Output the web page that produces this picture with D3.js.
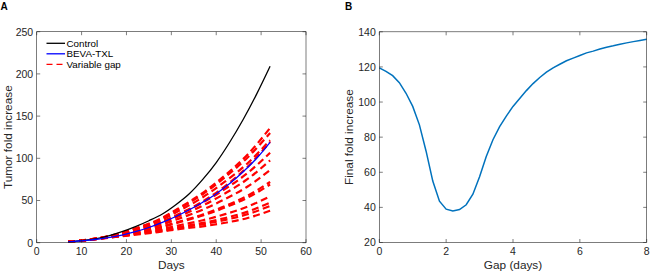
<!DOCTYPE html>
<html>
<head>
<meta charset="utf-8">
<script src="https://cdn.jsdelivr.net/npm/d3@7"></script>
<style>
  body { margin: 0; background: #fff; }
  svg { display: block; font-family: "Liberation Sans", Arial, sans-serif; }
</style>
</head>
<body>
<div id="chart"></div>
<script>
// Panel A: tumor growth curves
var curveDays = [7, 10, 13, 16, 19, 22, 25, 28, 31, 34, 37, 40, 43, 46, 49, 52];
var controlValues = [1, 2.5, 4.5, 8, 13, 19, 26, 34, 45, 58, 75, 95, 119, 146, 176, 209];
var bevaTxlValues = [1, 2.3, 3.8, 6, 9, 13, 18, 24, 31, 39, 48, 58, 70, 84, 100, 119];

var gapDays = [7, 12, 17, 22, 27, 32, 37, 42, 47, 52];
var variableGapCurves = [
  [1, 3.6, 7.5, 14, 23, 34.5, 49, 67, 90, 119.5],
  [1, 3.8, 8, 14.2, 21.5, 32, 44, 58.5, 75.5, 97.5],
  [1, 3.7, 7.4, 12.2, 17.7, 25.4, 33.4, 43.5, 55.7, 72],
  [1, 3.6, 7, 10.9, 15.3, 21, 26.6, 33.8, 42.8, 55],
  [1, 3.5, 6.7, 10, 13.5, 17.8, 21.8, 27, 33.8, 43.5],
  [1, 3.5, 6.5, 9.5, 12.6, 16.3, 19.4, 23.6, 29.3, 38],
  [1, 3.6, 6.8, 10.3, 14.1, 18.9, 23.4, 29.3, 36.8, 47.5],
  [1, 3.7, 7.3, 12, 17.3, 24.6, 32.2, 41.8, 53.4, 69],
  [1, 3.8, 7.8, 13.3, 19.8, 29.1, 39.2, 51.8, 66.6, 86],
  [1, 3.9, 8.3, 14.9, 22.9, 34.6, 47.6, 63.8, 82.6, 106.5],
  [1, 3.9, 8.7, 16, 25.1, 38.6, 53.8, 72.6, 94.2, 121.5],
  [1, 4, 8.9, 16.7, 26.4, 41, 57.4, 77.7, 101, 130],
  [1, 4, 9, 17, 27, 42, 59, 80, 104.5, 136]
];
var legendLabels = ["Control", "BEVA-TXL", "Variable gap"];

// Panel B: final fold increase vs gap
var gapValues = [0, 0.2, 0.4, 0.6, 0.8, 1, 1.2, 1.4, 1.6, 1.8, 2, 2.2, 2.4, 2.6, 2.8, 3, 3.2, 3.4, 3.6, 3.8,
  4, 4.2, 4.4, 4.6, 4.8, 5, 5.2, 5.4, 5.6, 5.8, 6, 6.2, 6.4, 6.6, 6.8, 7, 7.2, 7.4, 7.6, 7.8, 8];
var finalFoldValues = [119.5, 117.5, 115, 111, 105, 97.5, 87, 72, 55, 43.5, 39, 38, 38.8, 41.5, 47.5, 57.5, 69, 78.5, 86, 92,
  97.5, 102, 106.5, 110.5, 114, 117, 119.5, 121.5, 123.5, 125, 126.5, 128, 129, 130.2, 131.2, 132, 132.9, 133.7, 134.4, 135.1, 135.8];

var xTicksA = [0, 10, 20, 30, 40, 50, 60];
var yTicksA = [0, 50, 100, 150, 200, 250];
var xTicksB = [0, 2, 4, 6, 8];
var yTicksB = [20, 40, 60, 80, 100, 120, 140];

var axisColor = "#262626";

var svg = d3.select("#chart").append("svg")
  .attr("width", 650)
  .attr("height", 271);

// draws a matlab style box with inward ticks on all sides
function drawBox(g, x, y, xTicks, yTicks) {
  var x0 = x.range()[0], x1 = x.range()[1], y0 = y.range()[0], y1 = y.range()[1];
  g.append("rect")
    .attr("x", x0).attr("y", y1)
    .attr("width", x1 - x0).attr("height", y0 - y1)
    .attr("fill", "none").attr("stroke", axisColor).attr("stroke-width", 0.6);

  xTicks.forEach(function (t) {
    g.append("line").attr("x1", x(t)).attr("x2", x(t)).attr("y1", y0).attr("y2", y0 - 3.5)
      .attr("stroke", axisColor).attr("stroke-width", 0.6);
    g.append("line").attr("x1", x(t)).attr("x2", x(t)).attr("y1", y1).attr("y2", y1 + 3.5)
      .attr("stroke", axisColor).attr("stroke-width", 0.6);
    g.append("text").attr("x", x(t)).attr("y", y0 + 12.5)
      .attr("text-anchor", "middle").attr("font-size", "10.5px").attr("fill", axisColor)
      .text(t);
  });
  yTicks.forEach(function (t) {
    g.append("line").attr("x1", x0).attr("x2", x0 + 3.5).attr("y1", y(t)).attr("y2", y(t))
      .attr("stroke", axisColor).attr("stroke-width", 0.6);
    g.append("line").attr("x1", x1).attr("x2", x1 - 3.5).attr("y1", y(t)).attr("y2", y(t))
      .attr("stroke", axisColor).attr("stroke-width", 0.6);
    g.append("text").attr("x", x0 - 3.5).attr("y", y(t) + 3.8)
      .attr("text-anchor", "end").attr("font-size", "10.5px").attr("fill", axisColor)
      .text(t);
  });
}

// ---------- Panel A ----------
var gA = svg.append("g");
var xA = d3.scaleLinear().domain([0, 60]).range([36.7, 306]);
var yA = d3.scaleLinear().domain([0, 250]).range([242.7, 31.7]);

var lineA = d3.line()
  .x(function (d) { return xA(d[0]); })
  .y(function (d) { return yA(d[1]); })
  .curve(d3.curveMonotoneX);

// red variable gap curves first, blue drawn over them
variableGapCurves.forEach(function (vals) {
  gA.append("path")
    .datum(gapDays.map(function (d, i) { return [d, vals[i]]; }))
    .attr("d", lineA)
    .attr("fill", "none")
    .attr("stroke", "#ff0000")
    .attr("stroke-width", 2.2)
    .attr("stroke-dasharray", "7,4");
});

gA.append("path")
  .datum(curveDays.map(function (d, i) { return [d, controlValues[i]]; }))
  .attr("d", lineA)
  .attr("fill", "none").attr("stroke", "#000").attr("stroke-width", 1.3);

gA.append("path")
  .datum(curveDays.map(function (d, i) { return [d, bevaTxlValues[i]]; }))
  .attr("d", lineA)
  .attr("fill", "none").attr("stroke", "#0000ff").attr("stroke-width", 1.3);

drawBox(gA, xA, yA, xTicksA, yTicksA);

// legend (no box)
var legendStyles = [
  { stroke: "#000", dash: null },
  { stroke: "#0000ff", dash: null },
  { stroke: "#ff0000", dash: "6,4" }
];
legendLabels.forEach(function (lab, i) {
  var ly = 43.3 + i * 10.5;
  gA.append("line")
    .attr("x1", 46.5).attr("x2", 65).attr("y1", ly).attr("y2", ly)
    .attr("stroke", legendStyles[i].stroke)
    .attr("stroke-width", 1.3)
    .attr("stroke-dasharray", legendStyles[i].dash);
  gA.append("text")
    .attr("x", 66.5).attr("y", ly + 3.4)
    .attr("font-size", "9.8px").attr("fill", "#000")
    .text(lab);
});

gA.append("text")
  .attr("x", (xA.range()[0] + xA.range()[1]) / 2).attr("y", 269)
  .attr("text-anchor", "middle").attr("font-size", "11.8px").attr("fill", axisColor)
  .text("Days");

gA.append("text")
  .attr("transform", "translate(11.5," + ((yA.range()[0] + yA.range()[1]) / 2) + ") rotate(-90)")
  .attr("text-anchor", "middle").attr("font-size", "11.8px").attr("fill", axisColor)
  .text("Tumor fold increase");

gA.append("text")
  .attr("x", 0.5).attr("y", 9.5)
  .attr("font-size", "10px").attr("font-weight", "bold")
  .text("A");

// ---------- Panel B ----------
var gB = svg.append("g");
var xB = d3.scaleLinear().domain([0, 8]).range([379.3, 646.7]);
var yB = d3.scaleLinear().domain([20, 140]).range([242.5, 31.8]);

var lineB = d3.line()
  .x(function (d) { return xB(d[0]); })
  .y(function (d) { return yB(d[1]); });

gB.append("path")
  .datum(gapValues.map(function (g, i) { return [g, finalFoldValues[i]]; }))
  .attr("d", lineB)
  .attr("fill", "none").attr("stroke", "#0072bd").attr("stroke-width", 1.5);

drawBox(gB, xB, yB, xTicksB, yTicksB);

gB.append("text")
  .attr("x", (xB.range()[0] + xB.range()[1]) / 2).attr("y", 269)
  .attr("text-anchor", "middle").attr("font-size", "11.8px").attr("fill", axisColor)
  .text("Gap (days)");

gB.append("text")
  .attr("transform", "translate(352.5," + ((yB.range()[0] + yB.range()[1]) / 2) + ") rotate(-90)")
  .attr("text-anchor", "middle").attr("font-size", "11.8px").attr("fill", axisColor)
  .text("Final fold increase");

gB.append("text")
  .attr("x", 345).attr("y", 9.5)
  .attr("font-size", "10px").attr("font-weight", "bold")
  .text("B");
</script>
</body>
</html>
